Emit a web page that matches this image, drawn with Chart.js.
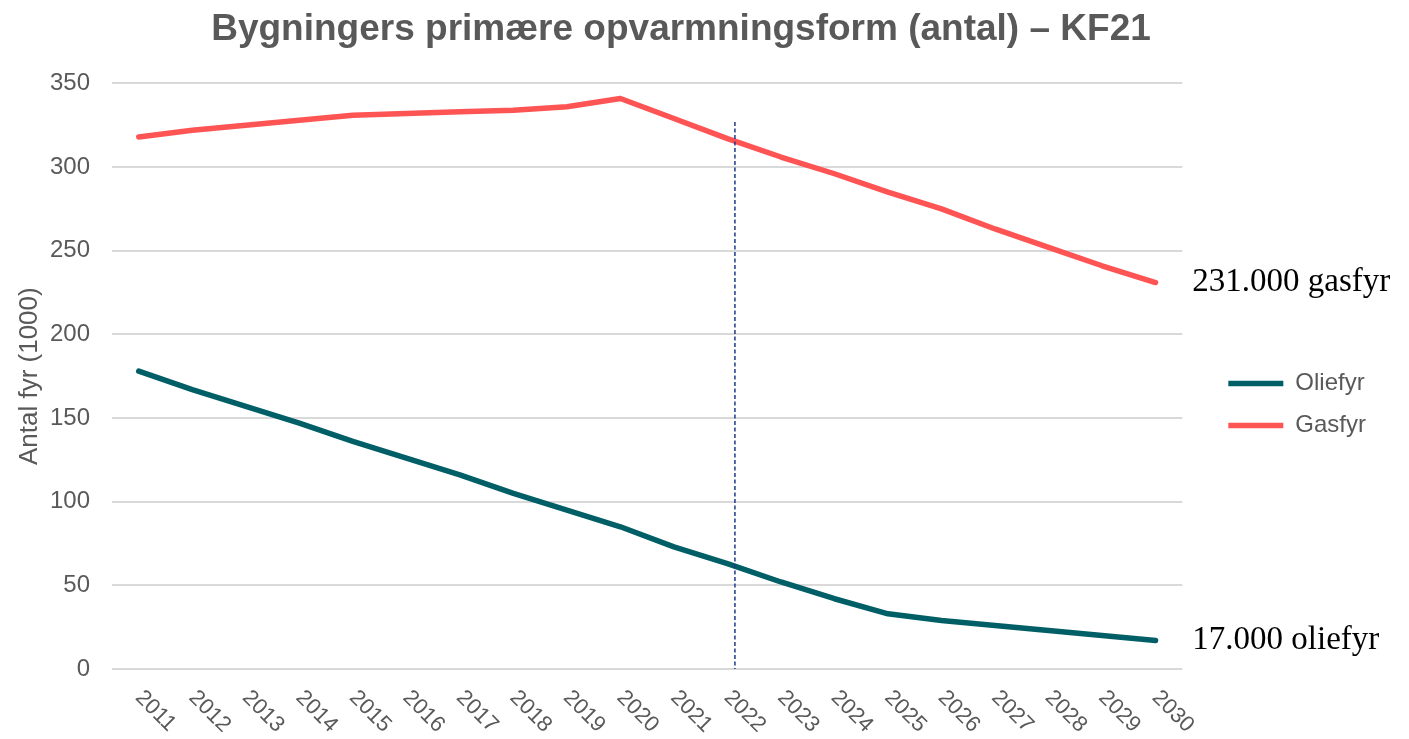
<!DOCTYPE html>
<html>
<head>
<meta charset="utf-8">
<script src="https://cdn.jsdelivr.net/npm/chart.js@4/dist/chart.umd.min.js"></script>
<style>
  html, body { margin: 0; padding: 0; background: #fff; }
  #wrap { width: 1409px; height: 739px; }
</style>
</head>
<body>
<div id="wrap"><canvas id="myLine"></canvas></div>
<script>
const years = ['2011', '2012', '2013', '2014', '2015', '2016', '2017', '2018', '2019', '2020',
  '2021', '2022', '2023', '2024', '2025', '2026', '2027', '2028', '2029', '2030'];
const oliefyr = [178, 167, 157, 147, 136, 126, 116, 105, 95, 85, 73, 63, 52, 42, 33, 29, 26, 23, 20, 17];
const gasfyr = [318, 322, 325, 328, 331, 332, 333, 334, 336, 341, 329, 317, 306, 296, 285, 275, 263, 252, 241, 231];
const yTicks = [0, 50, 100, 150, 200, 250, 300, 350];
const endLabels = ['17.000 oliefyr', '231.000 gasfyr'];
// dashed marker sits just after the 2022 point
const markerYear = '2022';
const markerShift = 0.14;
const markerTop = 327;

const grey = '#595959';

// dashed marker line + end labels
const extras = {
  id: 'extras',
  afterLayout(chart) {
    const lg = chart.legend;
    lg.left += 28; lg.right += 28;
    lg.top += 35; lg.bottom += 35;
  },
  afterDatasetsDraw(chart) {
    const ctx = chart.ctx;
    const x = chart.scales.x.getPixelForValue(years.indexOf(markerYear) + markerShift);
    const y = chart.scales.y;
    ctx.save();
    ctx.strokeStyle = '#1d3a8a';
    ctx.lineWidth = 1.5;
    ctx.setLineDash([4, 2.5]);
    ctx.beginPath();
    ctx.moveTo(x, y.getPixelForValue(markerTop));
    ctx.lineTo(x, y.getPixelForValue(0));
    ctx.stroke();
    ctx.restore();
  },
  afterDraw(chart) {
    const ctx = chart.ctx;
    const y = chart.scales.y;
    const x = chart.chartArea.right + 10;
    ctx.save();
    ctx.fillStyle = '#000';
    ctx.font = '33px "Liberation Serif", serif';
    ctx.textBaseline = 'middle';
    ctx.textAlign = 'left';
    ctx.fillText(endLabels[0], x, y.getPixelForValue(oliefyr[oliefyr.length - 1]));
    ctx.fillText(endLabels[1], x, y.getPixelForValue(gasfyr[gasfyr.length - 1]));
    ctx.restore();
  }
};

const lineCtx = document.getElementById('myLine').getContext('2d');
new Chart(lineCtx, {
  type: 'line',
  data: {
    labels: years,
    datasets: [
      { label: 'Oliefyr', data: oliefyr, borderColor: '#005f66', backgroundColor: '#005f66',
        borderWidth: 5.5, borderCapStyle: 'round', borderJoinStyle: 'round' },
      { label: 'Gasfyr', data: gasfyr, borderColor: '#ff5454', backgroundColor: '#ff5454',
        borderWidth: 5.5, borderCapStyle: 'round', borderJoinStyle: 'round' }
    ]
  },
  options: {
    responsive: true,
    maintainAspectRatio: false,
    animation: false,
    layout: { padding: { left: 14, right: 61, top: 0, bottom: 0 } },
    elements: {
      line: { tension: 0 },
      point: { radius: 0, hoverRadius: 0 }
    },
    plugins: {
      title: {
        display: true,
        text: 'Bygningers primære opvarmningsform (antal) – KF21',
        color: grey,
        font: { family: '"Liberation Sans", Arial, sans-serif', size: 37, weight: 'bold' },
        padding: { top: 8, bottom: 31 }
      },
      legend: {
        position: 'right',
        labels: {
          usePointStyle: true,
          pointStyle: 'line',
          pointStyleWidth: 55,
          color: grey,
          padding: 18,
          font: { family: '"Liberation Sans", Arial, sans-serif', size: 24 }
        }
      },
      tooltip: { enabled: false }
    },
    scales: {
      x: {
        offset: true,
        grid: { display: false },
        border: { display: false },
        ticks: {
          color: grey,
          padding: 8,
          autoSkip: false,
          font: { family: '"Liberation Sans", Arial, sans-serif', size: 22 }
        },
        afterCalculateLabelRotation(s) {
          s.labelRotation = -45;
          s._getXAxisLabelAlignment = () => 'left';
        },
        afterFit(s) {
          s.height = 70;
          s.paddingLeft = 0;
          s.paddingRight = 0;
        }
      },
      y: {
        min: 0,
        max: 350,
        afterBuildTicks(s) { s.ticks = yTicks.map(v => ({ value: v })); },
        grid: { color: '#d9d9d9', lineWidth: 2, drawTicks: false },
        border: { display: false },
        ticks: {
          color: grey,
          padding: 22,
          font: { family: '"Liberation Sans", Arial, sans-serif', size: 24 }
        },
        title: {
          display: true,
          text: 'Antal fyr (1000)',
          color: grey,
          padding: { top: 0, bottom: 0 },
          font: { family: '"Liberation Sans", Arial, sans-serif', size: 26 }
        },
        afterFit(s) { s.width = 98; }
      }
    }
  },
  plugins: [extras]
});
</script>
</body>
</html>
